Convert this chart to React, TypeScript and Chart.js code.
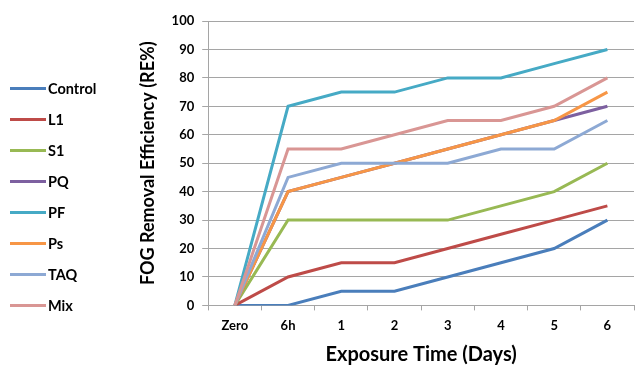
import React, { useEffect, useRef } from "react";
import { Chart, registerables } from "chart.js";

Chart.register(...registerables);

const categories = ["Zero", "6h", "1", "2", "3", "4", "5", "6"];
const seriesNames = ["Control", "L1", "S1", "PQ", "PF", "Ps", "TAQ", "Mix"];
const control = [0, 0, 5, 5, 10, 15, 20, 30];
const l1 = [0, 10, 15, 15, 20, 25, 30, 35];
const s1 = [0, 30, 30, 30, 30, 35, 40, 50];
const pq = [0, 40, 45, 50, 55, 60, 65, 70];
const pf = [0, 70, 75, 75, 80, 80, 85, 90];
const ps = [0, 40, 45, 50, 55, 60, 65, 75];
const taq = [0, 45, 50, 50, 50, 55, 55, 65];
const mix = [0, 55, 55, 60, 65, 65, 70, 80];
const seriesValues = [control, l1, s1, pq, pf, ps, taq, mix];

const colors = ["#4A7EBB", "#BE4B48", "#98B954", "#7D60A0", "#46AAC5", "#F79646", "#8DA9D4", "#D99694"];
const FONT = "Lato, 'Open Sans', 'Liberation Sans', sans-serif";

export default function App() {
  const ref = useRef<HTMLCanvasElement>(null);
  useEffect(() => {
    if (!ref.current) return;
    const chart = new Chart(ref.current, {
      type: "line",
      data: {
        labels: categories,
        datasets: seriesValues.map((vals, i) => ({
          label: seriesNames[i],
          data: vals,
          borderColor: colors[i],
          backgroundColor: colors[i],
          borderWidth: 3,
          pointRadius: 0,
          tension: 0,
          fill: false,
          order: seriesValues.length - i,
        })),
      },
      options: {
        animation: false,
        responsive: false,
        maintainAspectRatio: false,
        layout: { padding: { left: 137, top: 21, right: 1, bottom: 0 } },
        plugins: { legend: { display: false }, tooltip: { enabled: false } },
        scales: {
          x: {
            offset: true,
            grid: { display: true, drawOnChartArea: false, drawTicks: true, tickLength: 5, color: "#a5a5a5", offset: true },
            border: { display: true, color: "#a5a5a5" },
            ticks: { color: "#000", font: { family: FONT, size: 13, weight: "bold" }, padding: 8 },
            title: {
              display: true,
              text: "Exposure Time (Days)",
              color: "#000",
              font: { family: FONT, size: 20, weight: "bold" },
              padding: { top: 1, bottom: 0 },
            },
          },
          y: {
            min: 0,
            max: 100,
            grid: { color: "#a5a5a5", drawTicks: true, tickLength: 6 },
            border: { display: true, color: "#a5a5a5" },
            ticks: { stepSize: 10, color: "#000", font: { family: FONT, size: 13, weight: "bold" }, padding: 8 },
            title: {
              display: true,
              text: "FOG Removal Efficiency (RE%)",
              color: "#000",
              font: { family: FONT, size: 18, weight: "bold" },
              padding: { top: 0, bottom: 5 },
            },
          },
        },
      },
    });
    return () => chart.destroy();
  }, []);

  return (
    <div style={{ position: "fixed", left: 0, top: 0, width: 635, height: 367, background: "#fff" }}>
      <canvas ref={ref} width={635} height={367} style={{ position: "absolute", left: 0, top: 0, width: 635, height: 367 }} />
      {seriesNames.map((name, i) => (
        <div
          key={name}
          style={{ position: "absolute", left: 10, top: 88 + 31 * i - 10, height: 20, display: "flex", alignItems: "center" }}
        >
          <div style={{ width: 36, height: 3, background: colors[i] }} />
          <span style={{ fontFamily: FONT, fontWeight: "bold", fontSize: 14.5, color: "#000", marginLeft: 2 }}>{name}</span>
        </div>
      ))}
    </div>
  );
}
